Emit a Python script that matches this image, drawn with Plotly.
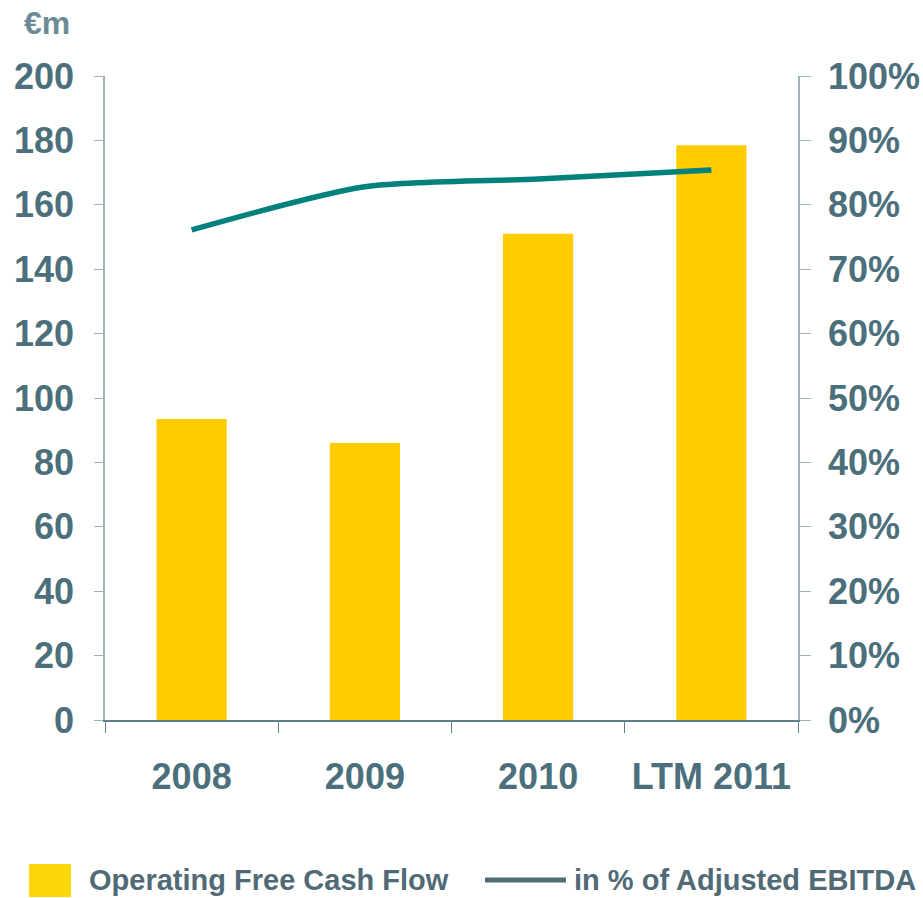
import plotly.graph_objects as go

categories = ["2008", "2009", "2010", "LTM 2011"]
ofcf_values = [93.5, 86.0, 151.0, 178.5]
pct_ebitda = [0.761, 0.828, 0.840, 0.854]
y_ticks = [0, 20, 40, 60, 80, 100, 120, 140, 160, 180, 200]
y2_ticks = [0, 0.1, 0.2, 0.3, 0.4, 0.5, 0.6, 0.7, 0.8, 0.9, 1.0]

TXT = "#4b6f7b"
AX = "#9fb3bb"
FONT = "Liberation Sans, Arial, sans-serif"

fig = go.Figure()
fig.add_trace(go.Bar(x=categories, y=ofcf_values, marker=dict(color="#FFCC00", line=dict(width=0)),
                     name="Operating Free Cash Flow", showlegend=False))
fig.add_trace(go.Scatter(x=categories, y=pct_ebitda, yaxis="y2", mode="lines",
                         line=dict(color="#00817b", width=5.5, shape="spline", smoothing=0.7),
                         name="in % of Adjusted EBITDA", showlegend=False))

tf = dict(family=FONT, size=36, color=TXT, weight="bold")
fig.update_layout(
    width=923, height=898,
    margin=dict(l=105, r=125, t=76, b=178),
    paper_bgcolor="white", plot_bgcolor="white",
    bargap=0.595,
    xaxis=dict(type="category", tickson="boundaries", ticks="outside", ticklen=11,
               tickcolor="#5f7f8a", showline=True, linecolor="#5f7f8a", linewidth=1.5,
               tickfont=tf, ticklabelstandoff=24, showgrid=False, zeroline=False, automargin=False),
    yaxis=dict(range=[0, 200], tickvals=y_ticks, ticks="outside", ticklen=9, tickcolor=AX,
               showline=True, linecolor=AX, linewidth=1.5, tickfont=tf, showgrid=False,
               zeroline=False, ticklabelstandoff=13, automargin=False),
    yaxis2=dict(range=[0, 1], tickvals=y2_ticks, tickformat=".0%", overlaying="y", side="right",
                ticks="outside", ticklen=11, tickcolor=AX, showline=True, linecolor=AX,
                linewidth=1.5, tickfont=tf, showgrid=False, zeroline=False, ticklabelstandoff=10,
                automargin=False),
    annotations=[
        dict(text="€m", xref="paper", yref="paper", x=-0.0837, y=1.082, showarrow=False,
             xanchor="center", yanchor="middle",
             font=dict(family=FONT, size=32, color="#6b8b96", weight="bold")),
        dict(text="Operating Free Cash Flow", xref="paper", yref="paper", x=-0.026, y=-0.2484,
             showarrow=False, xanchor="left", yanchor="middle",
             font=dict(family=FONT, size=29, color="#506a76", weight="bold")),
        dict(text="in % of Adjusted EBITDA", xref="paper", yref="paper", x=0.674, y=-0.2484,
             showarrow=False, xanchor="left", yanchor="middle",
             font=dict(family=FONT, size=29, color="#506a76", weight="bold")),
    ],
    shapes=[
        dict(type="rect", xref="paper", yref="paper", x0=-0.1097, x1=-0.0491, y0=-0.2748, y1=-0.2236,
             fillcolor="#FCD606", line=dict(width=0)),
        dict(type="line", xref="paper", yref="paper", x0=0.5483, x1=0.6652, y0=-0.2484, y1=-0.2484,
             line=dict(color="#506a76", width=5)),
    ],
)

fig.write_html("out.html", config={"displayModeBar": False},
               post_script="document.body.style.margin='0';document.body.style.overflow='hidden';")
